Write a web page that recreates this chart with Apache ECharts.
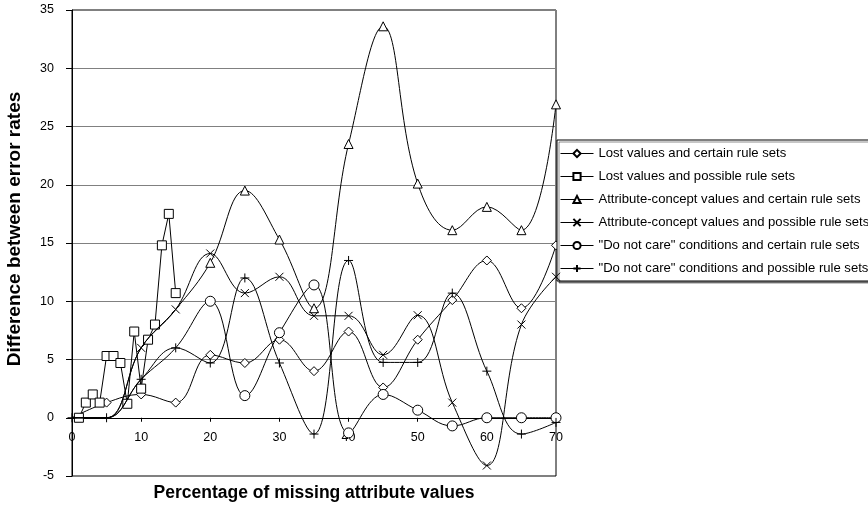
<!DOCTYPE html>
<html>
<head>
<meta charset="utf-8">
<script src="https://cdn.jsdelivr.net/npm/echarts@6/dist/echarts.min.js"></script>
<style>html,body{margin:0;padding:0;background:#fff}#c{width:868px;height:516px}</style>
</head>
<body>
<div id="c"></div>
<script>
// x values (percentage of missing attribute values)
const xPercent = [0, 5, 10, 15, 20, 25, 30, 35, 40, 45, 50, 55, 60, 65, 70];
// the "Lost values and possible rule sets" series is plotted against point index 1..15
const xIndex = [1, 2, 3, 4, 5, 6, 7, 8, 9, 10, 11, 12, 13, 14, 15];

const seriesNames = [
  'Lost values and certain rule sets',
  'Lost values and possible rule sets',
  'Attribute-concept values and certain rule sets',
  'Attribute-concept values and possible rule sets',
  '"Do not care" conditions and certain rule sets',
  '"Do not care" conditions and possible rule sets'
];

const lostCertain     = [0, 1.3, 2.0, 1.3, 5.4, 4.7, 6.7, 4.0, 7.4, 2.6, 6.7, 10.1, 13.5, 9.4, 14.8];
const lostPossible    = [0, 1.3, 2.0, 1.3, 5.3, 5.3, 4.7, 1.2, 7.4, 2.5, 6.7, 8.0, 14.8, 17.5, 10.7];
const acCertain       = [0, 0, 6.0, 9.3, 13.3, 19.5, 15.3, 9.4, 23.5, 33.6, 20.1, 16.1, 18.1, 16.1, 26.9];
const acPossible      = [0, 0, 6.0, 9.3, 14.1, 10.7, 12.1, 8.75, 8.75, 5.4, 8.8, 1.3, -4.1, 8.0, 12.1];
const dncCertain      = [0, 0, 3.3, 6.0, 10.0, 1.9, 7.3, 11.4, -1.3, 2.0, 0.65, -0.7, 0, 0, 0];
const dncPossible     = [0, 0, 3.3, 6.0, 4.7, 12.0, 4.7, -1.4, 13.5, 4.75, 4.75, 10.7, 4.0, -1.4, -0.4];

const yTicks = { min: -5, max: 35, interval: 5 };
const xTicks = { min: 0, max: 70, interval: 10 };

// index of first point whose marker is drawn
const firstMarker = [1, 0, 4, 2, 4, 0];

const crossPath = 'path://M0,0L10,10M10,0L0,10';
const plusPath = 'path://M5,0L5,10M0,5L10,5';
const symbols = ['diamond', 'rect', 'triangle', crossPath, 'circle', plusPath];
const sizes = [9, 9, 9, 8, 10, 9];
const smooths = [0.4, false, 0.4, 0.4, 0.4, 0.4];

const xs = [xPercent, xIndex, xPercent, xPercent, xPercent, xPercent];
const ys = [lostCertain, lostPossible, acCertain, acPossible, dncCertain, dncPossible];

const FONT = '"Liberation Sans", Arial, sans-serif';

const GRID = { left: 72, right: 312, top: 10, bottom: 40 };
const H = 516;
const plotH = H - GRID.top - GRID.bottom;
// x axis crosses the y axis at value 0 (shift the axis up from the grid bottom)
const xAxisOffset = -plotH * (0 - yTicks.min) / (yTicks.max - yTicks.min);

const series = seriesNames.map((name, s) => ({
  name,
  type: 'line',
  smooth: smooths[s],
  symbol: symbols[s],
  symbolSize: sizes[s],
  showAllSymbol: true,
  clip: false,
  lineStyle: { color: '#000', width: 1 },
  itemStyle: { color: '#fff', borderColor: '#000', borderWidth: 1 },
  emphasis: { disabled: true },
  z: 2 + s,
  data: ys[s].map((v, i) => i < firstMarker[s]
    ? { value: [xs[s][i], v], symbol: 'none' }
    : { value: [xs[s][i], v] })
}));

const chart = echarts.init(document.getElementById('c'), null, { renderer: 'canvas' });
chart.setOption({
  animation: false,
  backgroundColor: '#fff',
  textStyle: { fontFamily: FONT },
  grid: Object.assign({ show: true, borderColor: '#000', borderWidth: 1,
          containLabel: false, outerBoundsMode: 'none' }, GRID),
  xAxis: {
    type: 'value', min: xTicks.min, max: xTicks.max, interval: xTicks.interval,
    offset: xAxisOffset,
    name: 'Percentage of missing attribute values',
    nameLocation: 'middle', nameGap: 66,
    nameTextStyle: { fontFamily: FONT, fontSize: 17.5, fontWeight: 'bold', color: '#000' },
    axisLine: { show: true, onZero: false, lineStyle: { color: '#000', width: 1 } },
    axisTick: { show: true, length: 4, lineStyle: { color: '#000' } },
    axisLabel: { fontFamily: FONT, fontSize: 12.5, color: '#000', margin: 13 },
    splitLine: { show: false }
  },
  yAxis: {
    type: 'value', min: yTicks.min, max: yTicks.max, interval: yTicks.interval,
    name: 'Difference between error rates',
    nameLocation: 'middle', nameGap: 48, nameRotate: 90,
    nameTextStyle: { fontFamily: FONT, fontSize: 19, fontWeight: 'bold', color: '#000', padding: [0, 0, 0, 28] },
    axisLine: { show: true, onZero: false, lineStyle: { color: '#000', width: 1 } },
    axisTick: { show: true, length: 6, lineStyle: { color: '#000' } },
    axisLabel: { fontFamily: FONT, fontSize: 12.5, color: '#000', margin: 18 },
    splitLine: { show: true, lineStyle: { color: '#808080', width: 1 } }
  },
  legend: {
    orient: 'vertical',
    left: 557, top: 140,
    padding: [7, 20, 6, 3],
    itemWidth: 33, itemHeight: 9, itemGap: 10,
    backgroundColor: '#fff',
    borderColor: '#000', borderWidth: 1,
    shadowColor: 'rgba(0,0,0,0.45)', shadowOffsetX: 2, shadowOffsetY: 2, shadowBlur: 0,
    lineStyle: { width: 1 },
    textStyle: { fontFamily: FONT, fontSize: 13.1, color: '#000' },
    data: seriesNames
  },
  series
});
</script>
</body>
</html>
